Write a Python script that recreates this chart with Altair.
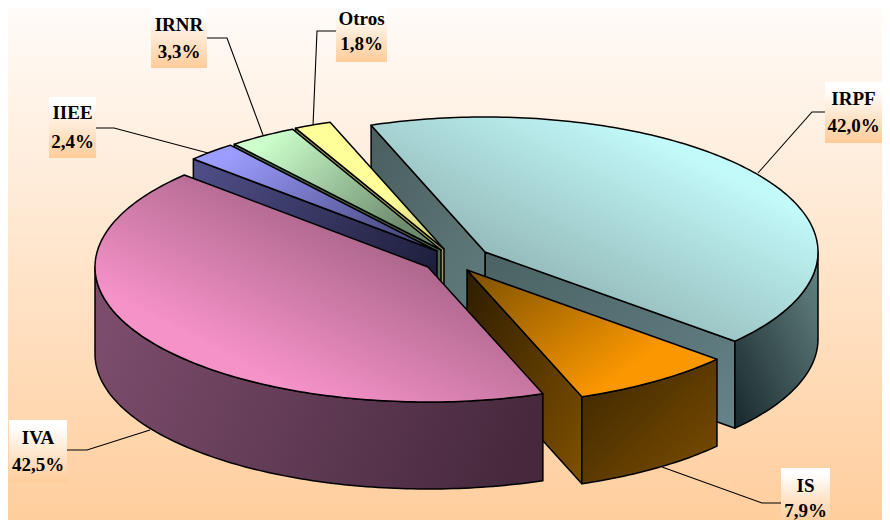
import math
import altair as alt

# --- values
names = ["IRPF", "IS", "IVA", "IIEE", "IRNR", "Otros"]
shares = [42.0, 7.9, 42.5, 2.4, 3.3, 1.8]
pct_labels = ["42,0%", "7,9%", "42,5%", "2,4%", "3,3%", "1,8%"]

# --- layout
W, H = 874, 512
M = 8
START = -110.0
RX, RY, DEPTH = 333.0, 135.0, 87.0
apex = {"IRPF": (485, 252), "IS": (467, 270), "IVA": (428, 267),
        "IIEE": (437, 251), "IRNR": (441, 250), "Otros": (444, 249)}
paint_order = ["IRPF", "Otros", "IRNR", "IIEE", "IS", "IVA"]
box_left = [825, 781, 9, 49, 151, 336]
box_right = [882, 830, 67, 96, 207, 387]
box_top = [82, 468, 420, 97, 7, 0]
box_bottom = [143, 522, 482, 158, 68, 62]
name_y = [99, 486, 438, 113, 25, 19]
pct_y = [126, 511, 465, 142, 52, 44]
leaders = {
    "IRPF": [(758, 173), (812, 112), (825, 112)],
    "IS": [(662, 467), (762, 503), (781, 503)],
    "IVA": [(150, 430), (87, 450), (67, 450)],
    "IIEE": [(208, 153), (114, 128), (96, 128)],
    "IRNR": [(263, 135), (227, 38), (207, 38)],
    "Otros": [(313, 126), (317, 31), (336, 31)],
}


def grad(c0, c1, x1, y1, x2, y2, o0=0.0, o1=1.0):
    return {"gradient": "linear", "x1": x1, "y1": y1, "x2": x2, "y2": y2,
            "stops": [{"offset": 0, "color": c0}, {"offset": o0, "color": c0},
                      {"offset": o1, "color": c1}, {"offset": 1, "color": c1}]}


top_fill = {
    "IRPF": grad("#C2F9F9", "#7F9C9C", 1, 0.1, 0.1, 1, 0.2, 0.95),
    "IS": grad("#7A5000", "#FB9700", 0, 0, 1, 0.7, 0.0, 0.8),
    "IVA": grad("#F592C8", "#A56286", 0, 1, 1, 0, 0.25, 0.72),
    "IIEE": grad("#9C9CFF", "#4F4F88", 0, 0, 1, 0.6, 0.15, 0.95),
    "IRNR": grad("#CCFFCC", "#6E8C6E", 0, 0, 1, 0.6, 0.15, 0.95),
    "Otros": grad("#FFFF99", "#C8C87A", 0, 0, 1, 1, 0.6, 1.0),
}
outer_fill = {
    "IRPF": grad("#18282B", "#668585", 0, 1, 1, 0),
    "IS": grad("#3C2600", "#7C4E00", 0, 0, 1, 1),
    "IVA": grad("#7C4C6C", "#46293D", 0, 0.4, 1, 0.6),
}
wall_start_fill = {
    "IRPF": grad("#4A5E5E", "#627E7E", 0, 0, 1, 1), "IS": grad("#2E1D00", "#7F5000", 0, 0, 1, 1),
    "IVA": "#6E4560", "IIEE": grad("#50508A", "#1E1E3C", 0, 0, 1, 0.6),
    "IRNR": "#4C664C", "Otros": "#9A9A60",
}
wall_end_fill = {"IRPF": grad("#4A6262", "#65838A", 0, 0, 1, 1)}

# --- geometry derived from the shares
total = sum(shares)
angles = {}
a = START
for n, s in zip(names, shares):
    angles[n] = (a, a + s / total * 360.0)
    a += s / total * 360.0


def pt(n, deg, dz=0.0):
    cx, cy = apex[n]
    r = math.radians(deg)
    return (cx + RX * math.cos(r), cy + RY * math.sin(r) + dz)


def arc(n, a0, a1, dz=0.0):
    steps = max(2, int(abs(a1 - a0)) + 1)
    return [pt(n, a0 + (a1 - a0) * i / steps, dz) for i in range(steps + 1)]


def poly(points, fill):
    ring = [list(p) for p in points]
    ring.append(ring[0])
    feature = {"type": "Feature", "properties": {},
               "geometry": {"type": "Polygon", "coordinates": [ring]}}
    return (alt.Chart(alt.Data(values=[feature]))
            .mark_geoshape(fill=fill, stroke="black", strokeWidth=1.5, strokeJoin="round")
            .project(type="identity", scale=1, translate=[-M, -M]))


slice_layers = []
for n in paint_order:
    a0, a1 = angles[n]
    cx, cy = apex[n]
    # start and end cut walls
    sp, ep = pt(n, a0), pt(n, a1)
    if n in wall_end_fill:
        slice_layers.append(poly([(cx, cy), ep, pt(n, a1, DEPTH), (cx, cy + DEPTH)], wall_end_fill[n]))
    if n in ("IRPF", "IIEE", "IRNR", "Otros"):
        slice_layers.append(poly([sp, (cx, cy), (cx, cy + DEPTH), pt(n, a0, DEPTH)], wall_start_fill[n]))
    if n == "IS":
        slice_layers.append(poly([ep, (cx, cy), (cx, cy + DEPTH), pt(n, a1, DEPTH)], wall_start_fill[n]))
    # visible part of the rim
    if n == "IRPF":
        v0, v1 = 0.0, a1
    elif n == "IS":
        v0, v1 = a0, a1
    elif n == "IVA":
        v0, v1 = a0, 180.0
    else:
        v0, v1 = None, None
    if v0 is not None:
        slice_layers.append(poly(arc(n, v0, v1) + arc(n, v1, v0, DEPTH), outer_fill[n]))
    # top face
    slice_layers.append(poly([(cx, cy)] + arc(n, a0, a1), top_fill[n]))

background = (alt.Chart(alt.Data(values=[{"a": 1}])).mark_rect(
    fill=grad("#FFFBF8", "#FFCE9D", 0, 0, 0, 1))
    .encode(x=alt.value(0), x2=alt.value(W), y=alt.value(0), y2=alt.value(H)))

# --- leader lines, label boxes, labels
line_rows = [{"k": k, "i": i, "x": x - M, "y": y - M}
             for k, pts in leaders.items() for i, (x, y) in enumerate(pts)]
lines = (alt.Chart(alt.Data(values=line_rows))
         .mark_line(color="black", strokeWidth=1.1)
         .encode(x=alt.X("x:Q", scale=None), y=alt.Y("y:Q", scale=None),
                 detail="k:N", order="i:Q"))

rows = [{"n": n, "p": p, "l": l - M, "r": r - M, "t": max(t - M, 0), "b": b - M,
         "cx": (l + r) / 2 - M, "ny": ny - M, "py": py - M}
        for n, p, l, r, t, b, ny, py in zip(names, pct_labels, box_left, box_right,
                                            box_top, box_bottom, name_y, pct_y)]
boxes = (alt.Chart(alt.Data(values=rows))
         .mark_rect(fill=grad("#FFFFFF", "#FFCC99", 0, 0, 0, 1, 0.1, 1.0))
         .encode(x=alt.X("l:Q", scale=None), x2="r:Q",
                 y=alt.Y("t:Q", scale=None), y2="b:Q"))
text_style = dict(font="Liberation Serif", fontWeight="bold", fontSize=19,
                  color="black", baseline="middle", align="center")
name_text = (alt.Chart(alt.Data(values=rows)).mark_text(**text_style)
             .encode(x=alt.X("cx:Q", scale=None), y=alt.Y("ny:Q", scale=None), text="n:N"))
pct_text = (alt.Chart(alt.Data(values=rows)).mark_text(**text_style)
            .encode(x=alt.X("cx:Q", scale=None), y=alt.Y("py:Q", scale=None), text="p:N"))

chart = (alt.layer(background, lines, *slice_layers, boxes, name_text, pct_text)
         .properties(width=W, height=H, padding=0, autosize=alt.AutoSizeParams(type="none"))
         .configure_view(stroke=None))

chart.save("out.html", embed_options={"renderer": "svg", "actions": False})
